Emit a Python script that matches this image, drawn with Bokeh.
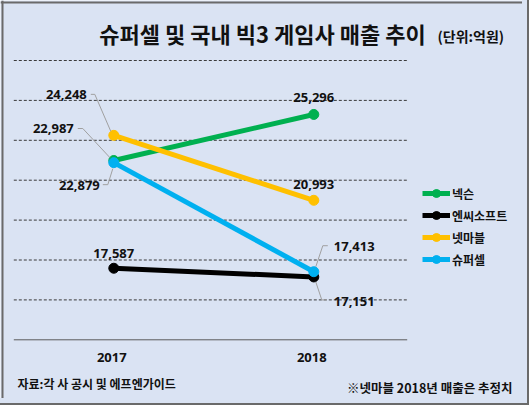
from bokeh.plotting import figure
from bokeh.models import Range1d, Legend, LegendItem, Label, ColumnDataSource, Span
from bokeh.core.properties import value
from bokeh.embed import file_html
from bokeh.resources import INLINE

# ---------------- data ----------------
years = ["2017", "2018"]
companies = ["넥슨", "엔씨소프트", "넷마블", "슈퍼셀"]
nexon = [22987, 25296]
ncsoft = [17587, 17151]
netmarble = [24248, 20993]
supercell = [22879, 17413]
y_ticks = [16000, 18000, 20000, 22000, 24000, 26000, 28000]
y_min, y_max = 14000, 28000
title_text = "슈퍼셀 및 국내 빅3 게임사 매출 추이"
unit_text = "(단위:억원)"
source_text = "자료:각 사 공시 및 에프엔가이드"
note_text = "※넷마블 2018년 매출은 추정치"

series = [nexon, ncsoft, netmarble, supercell]
colors = ["#00B050", "#000000", "#FFC000", "#00B0F0"]

# ---------------- layout / style ----------------
BG = "#DAE3F3"
FRAME_COL = "#6a6a6a"
HANGUL = "Noto Sans CJK KR"
NUM = "Open Sans"
W, H = 522, 398
PX_PER_X = 200.0          # pixels per category step
X0_PX = 113.3             # pixel position of first category
PLOT_TOP, PLOT_BOTTOM = 60.0, 339.3   # pixel rows of y_max / y_min
y_per_px = (y_max - y_min) / (PLOT_BOTTOM - PLOT_TOP)
x_start = -X0_PX / PX_PER_X
x_end = x_start + W / PX_PER_X
y_top = y_max + PLOT_TOP * y_per_px
y_bot = y_min - (H - PLOT_BOTTOM) * y_per_px
band_lo, band_hi = -0.5, -0.5 + 393.4 / PX_PER_X   # category band extent

p = figure(width=W, height=H, output_backend="svg", toolbar_location=None,
           x_range=Range1d(x_start, x_end), y_range=Range1d(y_bot, y_top),
           min_border=0, background_fill_color=BG, border_fill_color=BG)
p.outline_line_color = None
p.axis.visible = False
p.grid.visible = False
p.styles = {"box-shadow": f"0 0 0 5px {BG}, 0 0 0 7px {FRAME_COL}"}

# left / top edge of the outer frame
p.add_layout(Span(location=x_start + 2 / PX_PER_X, dimension="height",
                  line_color=FRAME_COL, line_width=2))
p.add_layout(Span(location=y_top - 2 * y_per_px, dimension="width",
                  line_color=FRAME_COL, line_width=2))

xs_idx = list(range(len(years)))

# gridlines (dashed) and axis line (solid)
p.segment(x0=[band_lo] * len(y_ticks), x1=[band_hi] * len(y_ticks), y0=y_ticks, y1=y_ticks,
          line_color="#3a3a3a", line_width=1, line_dash="3 2")
p.segment(x0=[band_lo], x1=[band_hi], y0=[y_min], y1=[y_min], line_color="#5a5a5a", line_width=1)

# category labels
p.text(x=xs_idx, y=[y_min] * len(years), text=years, x_offset=-2, y_offset=18,
       text_align="center", text_baseline="middle", text_font=value(NUM),
       text_font_style="bold", text_font_size="13px", text_color="#111111")

# ---------------- series ----------------
items = []
for name, vals, col in zip(companies, series, colors):
    r1 = p.line(xs_idx, vals, line_color=col, line_width=5)
    r2 = p.scatter(xs_idx, vals, size=10, fill_color=col, line_color=col)
    items.append(LegendItem(label=name, renderers=[r1, r2]))

legend = Legend(items=items, location=(422, 129), orientation="vertical",
                padding=0, margin=0, spacing=2, label_height=20, glyph_height=20,
                glyph_width=28, label_standoff=2,
                label_text_font=HANGUL, label_text_font_style="bold",
                label_text_font_size="12px", label_text_color="#111111",
                border_line_color=None, background_fill_alpha=0)
p.add_layout(legend, "center")

# ---------------- data labels with leader lines ----------------
# (series index, year index): (dx px, dy px (down), align, leader offsets px)
label_style = {
    (2, 0): (-27, -41, "right", [(-23, -41), (-19, -41), (-3, -4)]),
    (0, 0): (-40, -32, "right", [(-36, -32), (-31, -32), (-4, -3)]),
    (3, 0): (-14, 23, "right", [(-11, 22), (-6, 22), (-1, 6)]),
    (0, 1): (0, -17, "center", None),
    (2, 1): (0, -16, "center", None),
    (1, 0): (0, -15, "center", None),
    (3, 1): (20, -25, "left", [(14, -26), (9, -26), (2, -5)]),
    (1, 1): (20, 25, "left", [(2, 5), (8, 23), (13, 23)]),
}

lx, ly, lt, ldx, ldy, lal = [], [], [], [], [], []
lead_xs, lead_ys = [], []
for (si, yi), (dx, dy, al, lead) in label_style.items():
    v = series[si][yi]
    x = xs_idx[yi]
    lx.append(x); ly.append(v); lt.append(f"{v:,}")
    ldx.append(dx); ldy.append(dy); lal.append(al)
    if lead:
        lead_xs.append([x + ox / PX_PER_X for ox, oy in lead])
        lead_ys.append([v - oy * y_per_px for ox, oy in lead])

p.multi_line(lead_xs, lead_ys, line_color="#a0a0a0", line_width=1)
src = ColumnDataSource(dict(x=lx, y=ly, t=lt, dx=ldx, dy=ldy, al=lal))
p.text(x="x", y="y", text="t", x_offset="dx", y_offset="dy", text_align="al",
       text_baseline="middle", text_font=value(NUM), text_font_style="bold",
       text_font_size="13px", text_color="#111111", source=src)

# ---------------- titles / notes (screen units from bottom-left) ----------------
p.add_layout(Label(x=262, y=366, x_units="screen", y_units="screen", text=title_text,
                   text_font=HANGUL, text_font_style="bold", text_font_size="22px",
                   text_align="center", text_baseline="middle", text_color="#111111"))
p.add_layout(Label(x=437, y=363, x_units="screen", y_units="screen", text=unit_text,
                   text_font=HANGUL, text_font_style="bold", text_font_size="14px",
                   text_align="left", text_baseline="middle", text_color="#111111"))
p.add_layout(Label(x=17, y=15, x_units="screen", y_units="screen", text=source_text,
                   text_font=HANGUL, text_font_style="bold", text_font_size="12px",
                   text_align="left", text_baseline="middle", text_color="#111111"))
p.add_layout(Label(x=512, y=11, x_units="screen", y_units="screen", text=note_text,
                   text_font=HANGUL, text_font_style="bold", text_font_size="12.5px",
                   text_align="right", text_baseline="middle", text_color="#111111"))

open("out.html", "w").write(file_html(p, INLINE))
